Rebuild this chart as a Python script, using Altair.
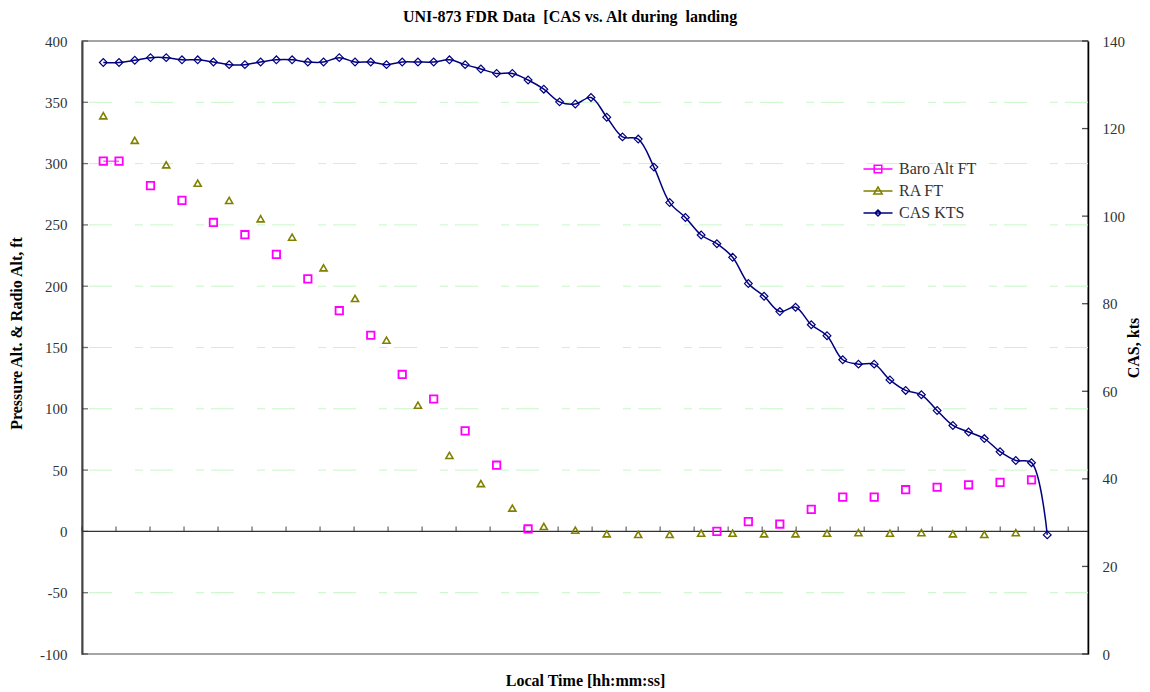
import altair as alt
import pandas as pd

N = None
FONT = "Liberation Serif"

# ---- data (index = sample number along the time axis) ----
idx = list(range(61))
baro = [302, 302, N, 282, N, 270, N, 252, N, 242,
        N, 226, N, 206, N, 180, N, 160, N, 128,
        N, 108, N, 82, N, 54, N, 2, N, N,
        N, N, N, N, N, N, N, N, N, 0,
        N, 8, N, 6, N, 18, N, 28, N, 28,
        N, 34, N, 36, N, 38, N, 40, N, 42, N]
ra = [339, N, 319, N, 299, N, 284, N, 270, N,
      255, N, 240, N, 215, N, 190, N, 156, N,
      103, N, 62, N, 39, N, 19, N, 4, N,
      1, N, -2, N, -2.5, N, -2.5, N, -1.5, N,
      -1.5, N, -2, N, -2, N, -1.5, N, -1, N,
      -1.5, N, -1, N, -2, N, -2.5, N, -1, N, N]
cas = [135.1, 135.1, 135.6, 136.2, 136.2, 135.7, 135.7, 135.2, 134.6, 134.6,
       135.2, 135.7, 135.7, 135.2, 135.2, 136.2, 135.2, 135.2, 134.6, 135.2,
       135.2, 135.2, 135.7, 134.6, 133.6, 132.6, 132.6, 131.1, 129.0, 126.1,
       125.6, 127.1, 122.6, 118.1, 117.6, 111.2, 103.1, 99.7, 95.7, 93.7,
       90.6, 84.6, 81.7, 78.2, 79.2, 75.2, 72.7, 67.2, 66.2, 66.2,
       62.6, 60.2, 59.2, 55.6, 52.2, 50.7, 49.2, 46.2, 44.2, 43.7, 27.2]

series = ["Baro Alt FT", "RA FT", "CAS KTS"]
colors = ["#FF00FF", "#808000", "#000080"]

left_ticks = [-100, -50, 0, 50, 100, 150, 200, 250, 300, 350, 400]
left_grid = [-50, 50, 100, 150, 200, 250, 300, 350]
right_ticks = [0, 20, 40, 60, 80, 100, 120, 140]
x_domain = [-1.354, 62.59]
x_tick_step = 2.1617
x_ticks = [x_domain[0] + k * x_tick_step for k in range(30)]

W, H = 1006, 613

df = pd.DataFrame({"idx": idx, "baro": baro, "ra": ra, "cas": cas})


def segments(vals):
    rows = []
    for i in range(len(vals) - 1):
        if vals[i] is not None and vals[i + 1] is not None:
            rows.append({"idx": idx[i], "v": vals[i], "seg": i})
            rows.append({"idx": idx[i + 1], "v": vals[i + 1], "seg": i})
    return pd.DataFrame(rows, columns=["idx", "v", "seg"])


xs = alt.Scale(domain=x_domain, nice=False, zero=False)
x_axis = alt.Axis(title="Local Time [hh:mm:ss]", labels=False, ticks=False, domain=False,
                  grid=False, titleFont=FONT, titleFontSize=16, titleFontWeight="bold",
                  titleColor="black", titlePadding=18)


def X(f):
    return alt.X(f, type="quantitative", scale=xs, axis=x_axis)


ys_l = alt.Scale(domain=[-100, 400], nice=False, zero=False)
axis_l = alt.Axis(orient="left", values=left_ticks, grid=False, ticks=False, tickSize=0,
                  labelPadding=15, labelFont=FONT, labelFontSize=15, labelColor="#333",
                  labelExpr="'' + datum.value",
                  domainColor="#444", domainWidth=2,
                  title="Pressure Alt. & Radio Alt, ft", titleFont=FONT, titleFontSize=16,
                  titleFontWeight="bold", titleColor="black", titleAngle=270,
                  titleX=-66, titleY=292, titleAlign="center", titleBaseline="middle")


def YL(f):
    return alt.Y(f, type="quantitative", scale=ys_l, axis=axis_l)


ys_r = alt.Scale(domain=[0, 140], nice=False, zero=False)
axis_r = alt.Axis(orient="right", values=right_ticks, grid=False, ticks=False, tickSize=0,
                  labelPadding=14, labelFont=FONT, labelFontSize=15, labelColor="#333",
                  labelExpr="'' + datum.value",
                  domainColor="black", domainWidth=1.5,
                  title="CAS, kts", titleFont=FONT, titleFontSize=16, titleFontWeight="bold",
                  titleColor="black", titleAngle=270, titleX=45,
                  titleAlign="center", titleBaseline="middle")


def YR(f):
    return alt.Y(f, type="quantitative", scale=ys_r, axis=axis_r)


grid = alt.Chart(pd.DataFrame({"v": left_grid})).mark_rule(
    color="#c6f7c6", strokeWidth=1, strokeDash=[23, 7, 8, 23]).encode(y=YL("v"))
zero = alt.Chart(pd.DataFrame({"v": [0]})).mark_rule(
    color="#333", strokeWidth=1.3).encode(y=YL("v"))
xt = alt.Chart(pd.DataFrame({"t": x_ticks, "v": [0] * len(x_ticks)})).mark_tick(
    orient="vertical", size=5, thickness=1.3, yOffset=-2.5, color="#333").encode(
    x=X("t"), y=YL("v"))
lt = alt.Chart(pd.DataFrame({"v": left_ticks})).mark_tick(
    orient="horizontal", size=6, thickness=1.3, color="#333").encode(
    y=YL("v"), x=alt.value(3))

base = alt.Chart(df)
baro_seg = alt.Chart(segments(baro)).mark_line(color=colors[0], strokeWidth=1).encode(
    x=X("idx"), y=YL("v"), detail="seg:N")
baro_pts = base.mark_point(shape="square", filled=False, color=colors[0], size=55,
                           strokeWidth=1.8, opacity=1).encode(x=X("idx"), y=YL("baro"))
ra_pts = base.mark_point(shape="triangle-up", filled=False, color=colors[1], size=50,
                         strokeWidth=1.6, opacity=1).encode(x=X("idx"), y=YL("ra"))

paths = [
    "M-1.45,0H1.45M-0.38,-0.38H0.38V0.38H-0.38Z",
    "M-1.45,0H1.45M0,-0.4L0.42,0.3H-0.42Z",
    "M-1.45,0H1.45M0,-0.3L0.3,0L0,0.3L-0.3,0Z",
]
legend = alt.Legend(title=None, orient="none", legendX=785, legendY=117, padding=0,
                    rowPadding=3, symbolSize=400, symbolStrokeWidth=1.5, symbolOpacity=1,
                    symbolFillColor="transparent", labelFont=FONT, labelFontSize=16,
                    labelColor="#333", labelOffset=10)
leg = alt.Chart(pd.DataFrame({"series": series})).mark_point(filled=False, opacity=0).encode(
    color=alt.Color("series:N", scale=alt.Scale(domain=series, range=colors), legend=legend),
    shape=alt.Shape("series:N", scale=alt.Scale(domain=series, range=paths), legend=legend),
)

left = alt.layer(grid, zero, xt, lt, baro_seg, baro_pts, ra_pts, leg)

cas_line = base.mark_line(color=colors[2], strokeWidth=1.5, interpolate="catmull-rom").encode(
    x=X("idx"), y=YR("cas"))
cas_pts = base.mark_point(shape="diamond", filled=False, color=colors[2], size=60,
                          strokeWidth=1.2, opacity=1).encode(x=X("idx"), y=YR("cas"))
rt = alt.Chart(pd.DataFrame({"v": right_ticks})).mark_tick(
    orient="horizontal", size=6, thickness=1.3, color="black").encode(
    y=YR("v"), x=alt.value(W - 3))

right = alt.layer(cas_line, cas_pts, rt)

chart = alt.layer(left, right).resolve_scale(y="independent").properties(
    width=W, height=H,
    padding={"left": 74, "top": 33, "right": 54, "bottom": 36},
    autosize=alt.AutoSizeParams(type="none"),
    title=alt.TitleParams(text="UNI-873 FDR Data \u00a0[CAS vs. Alt during \u00a0landing",
                          font=FONT, fontSize=16, fontWeight="bold", color="black",
                          anchor="middle", dx=-15, offset=9),
    background="white",
).configure_view(stroke="#888", strokeWidth=1.5).configure_axis(
    labelFont=FONT, titleFont=FONT)

chart.save("out.html", embed_options={"renderer": "svg", "actions": False})
